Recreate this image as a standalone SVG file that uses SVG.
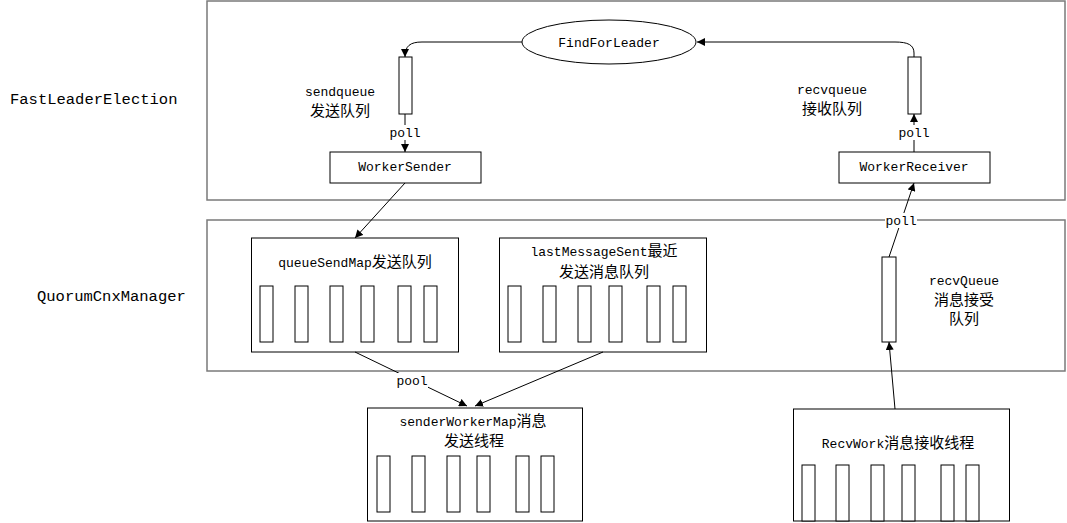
<svg xmlns="http://www.w3.org/2000/svg" width="1067" height="523" viewBox="0 0 1067 523">
<defs>
<marker id="ah" viewBox="0 0 10 10" refX="10" refY="5" markerWidth="8" markerHeight="8" markerUnits="userSpaceOnUse" orient="auto">
<path d="M0,0 L10,5 L0,10 z" fill="#000"/>
</marker>
</defs>
<style>
.frame{fill:#fff;stroke:#7a7a7a;stroke-width:1.5}
.box{fill:#fff;stroke:#000;stroke-width:1}
.q{fill:#fff;stroke:#000;stroke-width:1}
.t{font-family:"Liberation Mono","Noto Sans CJK SC",monospace;font-size:13px;fill:#000;text-anchor:middle}
.big{font-family:"Liberation Mono","Noto Sans CJK SC",monospace;font-size:15.5px;fill:#000}
.c{font-family:"Noto Sans CJK SC",sans-serif;font-size:15px}
.edge{fill:none;stroke:#000;stroke-width:1}
.lbg{fill:#fff}
</style>
<rect width="1067" height="523" fill="#fff"/>
<g id="fle">
<rect class="frame" x="207" y="1" width="858" height="199"/>
<text class="big" x="10" y="104">FastLeaderElection</text>
</g>
<g id="qcm">
<rect class="frame" x="207" y="220" width="858" height="151"/>
<text class="big" x="37" y="301">QuorumCnxManager</text>
</g>
<g id="findForLeader">
<ellipse class="box" cx="609" cy="42" rx="87" ry="22"/>
<text class="t" x="609" y="46.5">FindForLeader</text>
</g>
<g id="sendqueue">
<rect class="q" x="399" y="57" width="13" height="57"/>
<text class="t" x="340" y="96">sendqueue</text>
<text class="t" x="340" y="116"><tspan class="c">发送队列</tspan></text>
</g>
<g id="recvqueue">
<rect class="q" x="908" y="57" width="13" height="57"/>
<text class="t" x="832" y="94">recvqueue</text>
<text class="t" x="832" y="114"><tspan class="c">接收队列</tspan></text>
</g>
<g id="workerSender">
<rect class="box" x="330" y="152" width="151" height="31"/>
<text class="t" x="405" y="171">WorkerSender</text>
</g>
<g id="workerReceiver">
<rect class="box" x="839" y="152" width="151" height="31"/>
<text class="t" x="914" y="171">WorkerReceiver</text>
</g>
<g id="queueSendMap">
<rect class="box" x="251.5" y="238" width="207" height="114"/>
<text class="t" x="355" y="267">queueSendMap<tspan class="c">发送队列</tspan></text>
<rect class="q" x="260" y="286" width="13" height="56"/>
<rect class="q" x="295" y="286" width="13" height="56"/>
<rect class="q" x="330" y="286" width="13" height="56"/>
<rect class="q" x="361" y="286" width="13" height="56"/>
<rect class="q" x="398" y="286" width="13" height="56"/>
<rect class="q" x="424" y="286" width="13" height="56"/>
</g>
<g id="lastMessageSent">
<rect class="box" x="499.5" y="238" width="207" height="114"/>
<text class="t" x="604" y="256">lastMessageSent<tspan class="c">最近</tspan></text>
<text class="t" x="604" y="277"><tspan class="c">发送消息队列</tspan></text>
<rect class="q" x="508" y="286" width="13" height="56"/>
<rect class="q" x="543" y="286" width="13" height="56"/>
<rect class="q" x="578" y="286" width="13" height="56"/>
<rect class="q" x="609" y="286" width="13" height="56"/>
<rect class="q" x="647" y="286" width="13" height="56"/>
<rect class="q" x="673" y="286" width="13" height="56"/>
</g>
<g id="recvQueue">
<rect class="q" x="882" y="257" width="14" height="85"/>
<text class="t" x="964" y="285">recvQueue</text>
<text class="t" x="964" y="305"><tspan class="c">消息接受</tspan></text>
<text class="t" x="964" y="324"><tspan class="c">队列</tspan></text>
</g>
<g id="senderWorkerMap">
<rect class="box" x="367.5" y="408" width="215" height="113"/>
<text class="t" x="473" y="426">senderWorkerMap<tspan class="c">消息</tspan></text>
<text class="t" x="474" y="446"><tspan class="c">发送线程</tspan></text>
<rect class="q" x="377" y="456" width="13" height="56"/>
<rect class="q" x="412" y="456" width="13" height="56"/>
<rect class="q" x="447" y="456" width="13" height="56"/>
<rect class="q" x="477" y="456" width="13" height="56"/>
<rect class="q" x="516" y="456" width="13" height="56"/>
<rect class="q" x="541" y="456" width="13" height="56"/>
</g>
<g id="recvWork">
<rect class="box" x="793.5" y="409" width="216" height="112"/>
<text class="t" x="898" y="448">RecvWork<tspan class="c">消息接收线程</tspan></text>
<rect class="q" x="802" y="465" width="13" height="56"/>
<rect class="q" x="836" y="465" width="13" height="56"/>
<rect class="q" x="871" y="465" width="13" height="56"/>
<rect class="q" x="902" y="465" width="13" height="56"/>
<rect class="q" x="941" y="465" width="13" height="56"/>
<rect class="q" x="966" y="465" width="13" height="56"/>
</g>
<g id="connectors">
<path class="edge" d="M522,42 L422,42 C410,42 405,46 405,57" marker-end="url(#ah)"/>
<path class="edge" d="M914,57 L914,53 C914,45 908,42 895,42 L697,42" marker-end="url(#ah)"/>
<path class="edge" d="M405,114 L405,152" marker-end="url(#ah)"/>
<rect class="lbg" x="389" y="125" width="32" height="15"/>
<text class="t" x="405" y="137">poll</text>
<path class="edge" d="M914,152 L914,114" marker-end="url(#ah)"/>
<rect class="lbg" x="898" y="125" width="32" height="15"/>
<text class="t" x="914" y="137">poll</text>
<path class="edge" d="M405,183 L355,238" marker-end="url(#ah)"/>
<path class="edge" d="M889,257 L914,183" marker-end="url(#ah)"/>
<rect class="lbg" x="885" y="213" width="32" height="15"/>
<text class="t" x="901" y="224.5">poll</text>
<path class="edge" d="M895,409 L889,342" marker-end="url(#ah)"/>
<path class="edge" d="M355,352 L467,406" marker-end="url(#ah)"/>
<path class="edge" d="M603,352 L475,406" marker-end="url(#ah)"/>
<rect class="lbg" x="396" y="373" width="32" height="15"/>
<text class="t" x="412" y="385">pool</text>
</g>
</svg>
